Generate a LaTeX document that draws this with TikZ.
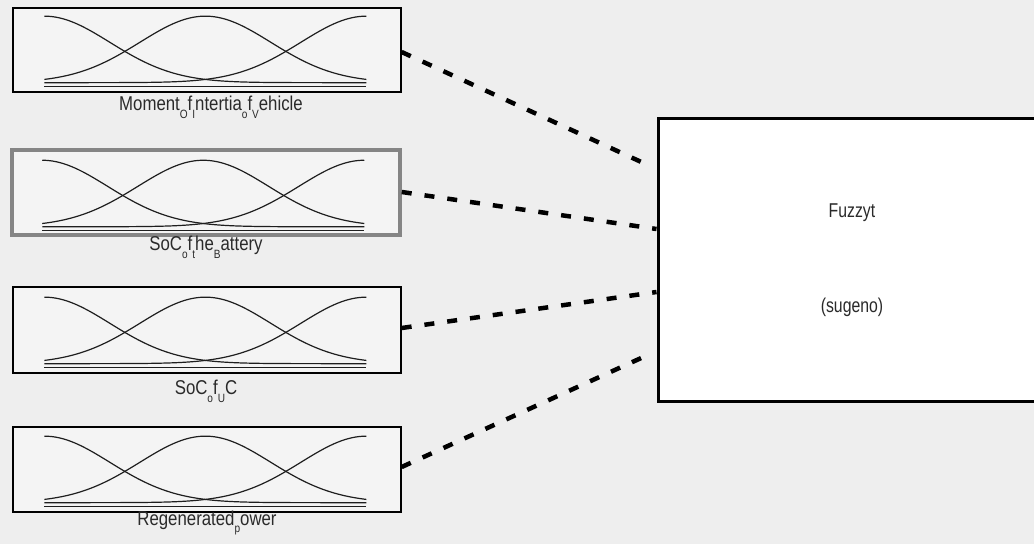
\documentclass[tikz,border=0pt]{standalone}
\usepackage{fontspec}
\setmainfont{Liberation Sans}[FakeStretch=0.84]
\newfontfamily\fisfont{Liberation Sans}[FakeStretch=0.79]
\newcommand\subl[1]{\raisebox{-0.75ex}{\fontsize{12}{12}\selectfont #1}}
\definecolor{bgcol}{HTML}{EEEEEE}
\definecolor{boxfill}{HTML}{F4F4F4}
\definecolor{curvecol}{HTML}{1E1E1E}
\definecolor{selgray}{HTML}{858585}
\definecolor{txtcol}{HTML}{2A2A2A}
\newcommand\mfcurves[1]{%
  \begin{scope}[shift={(#1.south west)}]
    \draw[mfline] (32,-6.5) -- (354,-6.5);
    \draw[mfline] plot[domain=32:354, samples=90] (\x, {-10-66.5*exp(-0.5*((\x-32)/65.5)^2)});
    \draw[mfline] plot[domain=32:354, samples=90] (\x, {-10-66.5*exp(-0.5*((\x-193)/65.5)^2)});
    \draw[mfline] plot[domain=32:354, samples=90] (\x, {-10-66.5*exp(-0.5*((\x-354)/65.5)^2)});
  \end{scope}}
\begin{document}
\begin{tikzpicture}[x=1pt,y=-1pt,
  inbox/.style={draw=black, line width=1.3pt, fill=boxfill, minimum width=388pt, minimum height=84pt, inner sep=0pt},
  selbox/.style={inbox, draw=selgray, line width=3.5pt},
  fisbox/.style={draw=black, line width=3pt, fill=white, minimum width=420pt, minimum height=283pt, inner sep=0pt},
  mfline/.style={draw=curvecol, line width=1.2pt},
  lbl/.style={font=\fontsize{20}{22}\selectfont, text=txtcol, inner sep=0pt},
  fistxt/.style={font=\fisfont\fontsize{20}{22}\selectfont, text=txtcol, inner sep=0pt},
  conn/.style={draw=black, line width=4.5pt, dash pattern=on 10pt off 13pt}]
\useasboundingbox (0,0) rectangle (1034,544);
\fill[bgcol] (0,0) rectangle (1034,544);
\clip (0,0) rectangle (1034,544);

% input boxes
\node[inbox]  (b1) at (207,50)    {};
\node[selbox] (b2) at (206,192.5) [minimum height=85pt] {};
\node[inbox]  (b3) at (207,330)   [minimum height=86pt] {};
\node[inbox]  (b4) at (207,469.5) [minimum height=85pt] {};
\mfcurves{b1}
\mfcurves{b2}
\mfcurves{b3}
\mfcurves{b4}

% labels
\node[lbl] (l1) at (211,107) {Moment\subl{O}f\subl{I}ntertia\subl{o}f\subl{V}ehicle};
\node[lbl] (l2) at (206,247) {SoC\subl{o}f\subl{t}he\subl{B}attery};
\node[lbl] (l3) at (206,391) {SoC\subl{o}f\subl{U}C};
\node[lbl] (l4) at (207,523) {Regenerated\subl{p}ower};

% FIS box
\node[fisbox] (fis) at (868,259.5) {};
\node[fistxt] (t1) at (852,213) {Fuzzyt};
\node[fistxt] (t2) at (852,307) {(sugeno)};

% ports
\coordinate (p1) at (650,166);
\coordinate (p2) at (fis.west |- 0,229);
\coordinate (p3) at (fis.west |- 0,292);
\coordinate (p4) at (650,354);

% connectors
\draw[conn] (b1.east |- 0,52) -- (p1);
\draw[conn] (b2.east |- 0,192) -- (p2);
\draw[conn] (b3.east |- 0,328) -- (p3);
\draw[conn] (b4.east |- 0,467) -- (p4);
\end{tikzpicture}
\end{document}
